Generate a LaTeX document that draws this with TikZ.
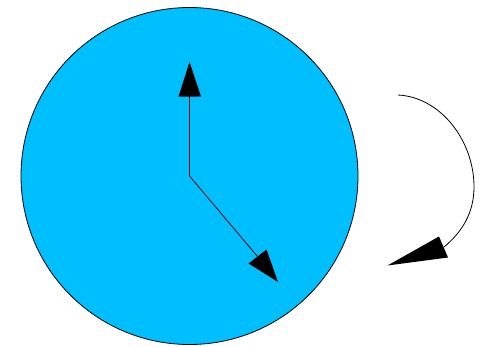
\documentclass[tikz,border=0pt]{standalone}
\definecolor{dial}{HTML}{00BFFF}
\begin{document}
\begin{tikzpicture}[x=1pt,y=-1pt,
  thinline/.style={draw=black,line width=0.8pt},
  tip/.style={fill=black,draw=none}]
\useasboundingbox (0,0) rectangle (484,346);
\coordinate (c) at (189.5,176);
\fill[dial,draw=black,line width=0.8pt] (c) circle[radius=168.5];
% minute hand
\coordinate (mbase) at (189.5,95);
\draw[thinline] (c) -- (mbase);
\fill[tip] (189.5,62) -- (178.5,96.5) -- (201,96.5) -- cycle;
% hour hand
\coordinate (hbase) at (257.5,256.5);
\draw[thinline] (c) -- (hbase);
\fill[tip] (278,282) -- (248.5,263.5) -- (266.5,249.5) -- cycle;
% rotation arrow
\coordinate (a0) at (398,95);
\coordinate (a1) at (474,187);
\coordinate (a2) at (444,247);
\draw[thinline] (a0) .. controls (440,97) and (474,140) .. (a1)
  .. controls (474,213) and (462,232) .. (a2);
\fill[tip] (387.5,265.5) -- (439,236.5) -- (448,257.5) -- cycle;
\end{tikzpicture}
\end{document}
